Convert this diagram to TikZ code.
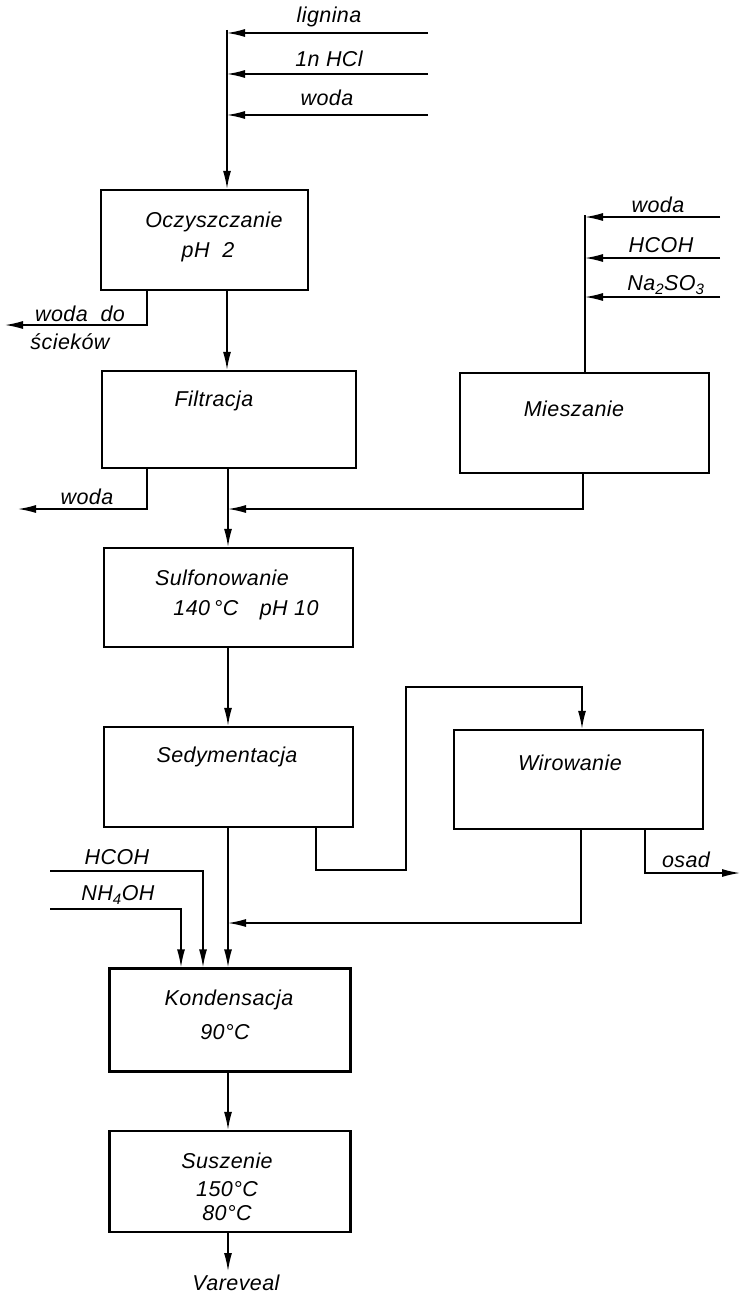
\documentclass[tikz,border=0pt]{standalone}
\usepackage{fontspec}
\setmainfont{Liberation Sans}[LetterSpace=2]
\usetikzlibrary{arrows.meta}
\begin{document}
\begin{tikzpicture}[x=1pt,y=-1pt,
  box/.style={draw, line width=2.4pt, inner sep=0pt},
  lab/.style={inner sep=0pt, font=\itshape\fontsize{21.5}{24}\selectfont},
  flow/.style={line width=1.4pt},
  arr/.style={flow, -{Latex[length=18pt,width=8pt]}}]
\useasboundingbox (0,0) rectangle (742,1295);

% boxes
\node[box, minimum width=207pt, minimum height=100pt] (ocz) at (204.5,240) {};
\node[box, minimum width=254pt, minimum height=97pt] (fil) at (229,419.5) {};
\node[box, minimum width=249pt, minimum height=100pt] (mie) at (584.5,423) {};
\node[box, minimum width=249pt, minimum height=99pt] (sul) at (228.5,597.5) {};
\node[box, minimum width=249pt, minimum height=100pt] (sed) at (228.5,777) {};
\node[box, minimum width=249pt, minimum height=99pt] (wir) at (578.5,779.5) {};
\node[box, minimum width=241pt, minimum height=103pt] (kon) at (230,1020) {};
\node[box, minimum width=241pt, minimum height=101pt] (sus) at (230,1181.5) {};

% box texts
\node[lab] (tocz1) at (214,222) {Oczyszczanie};
\node[lab] (tocz2) at (208,252) {pH\ \ 2};
\node[lab] (tfil) at (214,401) {Filtracja};
\node[lab] (tmie) at (574,409) {Mieszanie};
\node[lab] (tsul1) at (222,578) {Sulfonowanie};
\node[lab] (tsul2) at (246,610) {140\,°C\quad pH 10};
\node[lab] (tsed) at (227,757) {Sedymentacja};
\node[lab] (twir) at (570,763) {Wirowanie};
\node[lab] (tkon1) at (229,1000) {Kondensacja};
\node[lab] (tkon2) at (225,1032) {90°C};
\node[lab] (tsus1) at (227,1161) {Suszenie};
\node[lab] (tsus2) at (227,1189) {150°C};
\node[lab] (tsus3) at (227,1213) {80°C};

% main line coordinates
\coordinate (top) at (227,30);
\coordinate (main) at (228,500);
% top inputs
\coordinate (in1) at (428,33);
\coordinate (in2) at (428,74);
\coordinate (in3) at (428,115);
\node[lab] (llig) at (329,17) {lignina};
\node[lab] (lhcl) at (329,59) {1n HCl};
\node[lab] (lwod) at (327,98) {woda};
\draw[arr] (top) -- (top |- ocz.north);
\draw[arr] (in1) -- (in1 -| top);
\draw[arr] (in2) -- (in2 -| top);
\draw[arr] (in3) -- (in3 -| top);

% Oczyszczanie waste
\coordinate (w1) at (147,325);
\coordinate (w1e) at (5,325);
\draw[arr] (w1 |- ocz.south) -- (w1) -- (w1e);
\node[lab] (lwd1) at (80,314) {woda\ \ do};
\node[lab] (lwd2) at (70,342) {ścieków};

% ocz -> fil
\draw[arr] (top |- ocz.south) -- (top |- fil.north);

% Filtracja waste
\coordinate (w2) at (147,509);
\coordinate (w2e) at (18,509);
\draw[arr] (w2 |- fil.south) -- (w2) -- (w2e);
\node[lab] (lwd3) at (87,497) {woda};

% fil -> sul
\draw[arr] (main |- fil.south) -- (main |- sul.north);

% Mieszanie inputs
\coordinate (mtop) at (585,215);
\coordinate (m1) at (720,217);
\coordinate (m2) at (720,258);
\coordinate (m3) at (720,297);
\draw[flow] (mtop) -- (mtop |- mie.north);
\draw[arr] (m1) -- (m1 -| mtop);
\draw[arr] (m2) -- (m2 -| mtop);
\draw[arr] (m3) -- (m3 -| mtop);
\node[lab] (lmw) at (658,205) {woda};
\node[lab] (lmh) at (661,245) {HCOH};
\node[lab] (lmn) at (666,285) {Na\textsubscript{2}SO\textsubscript{3}};

% Mieszanie -> main
\coordinate (mo) at (583,509);
\draw[arr] (mo |- mie.south) -- (mo) -- (mo -| main);

% sul -> sed
\draw[arr] (main |- sul.south) -- (main |- sed.north);

% sed -> wir
\coordinate (s1) at (316,870);
\coordinate (s2) at (406,870);
\coordinate (s3) at (406,687);
\coordinate (s4) at (582,687);
\draw[arr] (s1 |- sed.south) -- (s1) -- (s2) -- (s3) -- (s4) -- (s4 |- wir.north);

% wir -> main
\coordinate (wo) at (581,923);
\draw[arr] (wo |- wir.south) -- (wo) -- (wo -| main);

% osad
\coordinate (os) at (645,873);
\coordinate (ose) at (740,873);
\draw[arr] (os |- wir.south) -- (os) -- (ose);
\node[lab] (losad) at (686,860) {osad};

% sed -> kon
\draw[arr] (main |- sed.south) -- (main |- kon.north);

% left inputs
\coordinate (h1) at (50,871);
\coordinate (h2) at (203,871);
\coordinate (n1) at (50,909);
\coordinate (n2) at (181,909);
\draw[arr] (h1) -- (h2) -- (h2 |- kon.north);
\draw[arr] (n1) -- (n2) -- (n2 |- kon.north);
\node[lab] (lhh) at (117,857) {HCOH};
\node[lab] (lnh) at (118,895) {NH\textsubscript{4}OH};

% kon -> sus -> product
\coordinate (prod) at (228,1271);
\draw[arr] (main |- kon.south) -- (main |- sus.north);
\draw[arr] (main |- sus.south) -- (prod);
\node[lab] (lprod) at (236,1283) {Vareveal};
\end{tikzpicture}
\end{document}
